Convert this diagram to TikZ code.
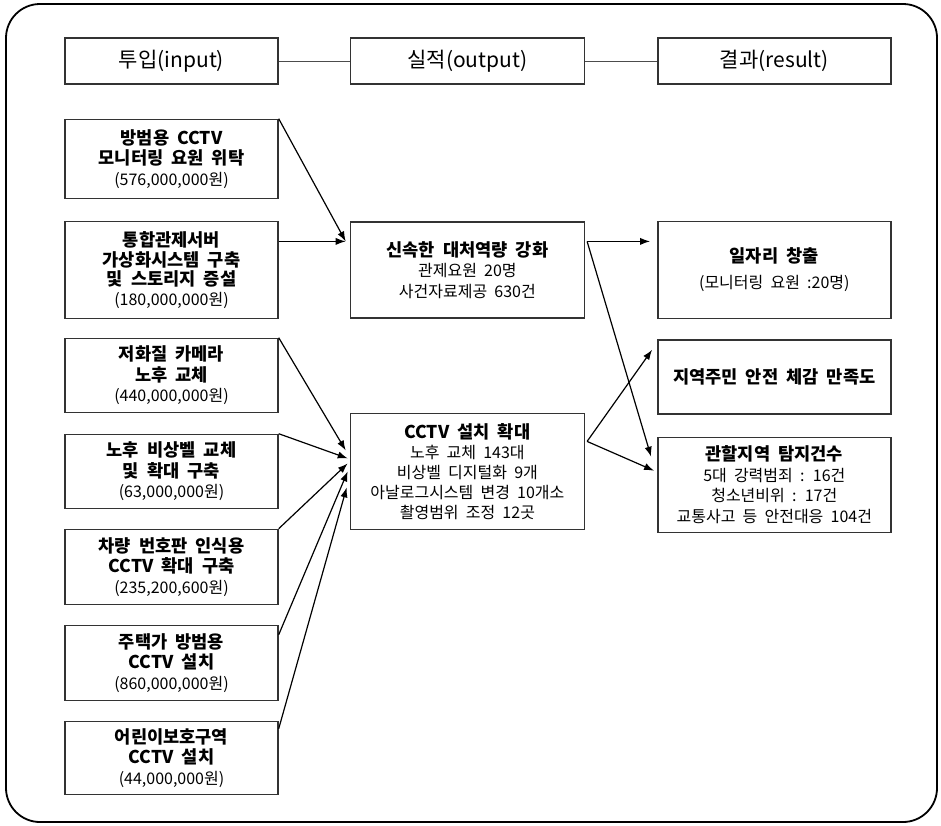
\documentclass[tikz,border=0pt]{standalone}
\usepackage{fontspec}
\setmainfont{Noto Sans CJK KR}[WordSpace=2]
\usepackage{tikz}
\usetikzlibrary{positioning,arrows.meta,calc}
\tikzstyle{box} = [rectangle, draw=black!80, line width=0.7pt, %
   align=center, inner sep=0.5pt, font=\fontsize{8.8}{10.2}\selectfont\bfseries]
\tikzstyle{inbox} = [box, minimum width=106.5pt]
\tikzstyle{outbox} = [box, minimum width=117pt]
\tikzstyle{resbox} = [box, minimum width=116.5pt]
\tikzstyle{head} = [minimum height=23pt, font=\fontsize{10.5}{12}\selectfont\mdseries]
\tikzstyle{link} = [draw, line width=0.5pt, black!70]
\tikzstyle{line} = [draw, line width=0.6pt, -{Latex[length=5pt,width=3.6pt]}]
\newcommand{\detail}[1]{{\mdseries\fontsize{8}{10}\selectfont #1}}

\begin{document}
\begin{tikzpicture}
   \useasboundingbox (0,0) rectangle (470.5pt,-412.5pt);
   \draw[line width=0.9pt, rounded corners=17pt] (3pt,-2pt) rectangle (468.5pt,-411pt);

   % HEADINGS %%%%%%%%%%%%%%%%%%%%%%%%%%%%%%%%%%%%%%%%%%%%%%%%%%%%%%%%%%%
   \node[inbox, head] (inhead) at (85.75pt,-30.5pt) {투입(input)};
   \node[outbox, head, right=35.5pt of inhead] (outhead) {실적(output)};
   \node[resbox, head, right=36pt of outhead] (reshead) {결과(result)};

   % INPUT COLUMN %%%%%%%%%%%%%%%%%%%%%%%%%%%%%%%%%%%%%%%%%%%%%%%%%%%%%%%
   \node[inbox, below=17pt of inhead, minimum height=39.5pt] (in1){%
      방범용 CCTV\\모니터링 요원 위탁\\\detail{(576,000,000원)}};
   \node[inbox, below=68pt of inhead, minimum height=48.5pt, %
      font=\fontsize{8.8}{9.8}\selectfont\bfseries] (in2){%
      통합관제서버\\가상화시스템 구축\\및 스토리지 증설\\\detail{(180,000,000원)}};
   \node[inbox, below=126.5pt of inhead, minimum height=37pt] (in3){%
      저화질 카메라\\노후 교체\\\detail{(440,000,000원)}};
   \node[inbox, below=174.5pt of inhead, minimum height=37pt] (in4){%
      노후 비상벨 교체\\및 확대 구축\\\detail{(63,000,000원)}};
   \node[inbox, below=222pt of inhead, minimum height=37.5pt] (in5){%
      차량 번호판 인식용\\CCTV 확대 구축\\\detail{(235,200,600원)}};
   \node[inbox, below=270pt of inhead, minimum height=37.5pt] (in6){%
      주택가 방범용\\CCTV 설치\\\detail{(860,000,000원)}};
   \node[inbox, below=318pt of inhead, minimum height=36.5pt] (in7){%
      어린이보호구역\\CCTV 설치\\\detail{(44,000,000원)}};

   % OUTPUT COLUMN %%%%%%%%%%%%%%%%%%%%%%%%%%%%%%%%%%%%%%%%%%%%%%%%%%%%%%
   \node[outbox, right=35.5pt of in2, minimum height=48pt] (speed){%
      신속한 대처역량 강화\\\detail{관제요원 20명}\\\detail{사건자료제공 630건}};
   \node[outbox, right=35.5pt of in4, minimum height=58pt, %
      font=\fontsize{8.8}{10}\selectfont\bfseries] (cctv){%
      CCTV 설치 확대\\\detail{노후 교체 143대}\\\detail{비상벨 디지털화 9개}\\%
      \detail{아날로그시스템 변경 10개소}\\\detail{촬영범위 조정 12곳}};

   % RESULT COLUMN %%%%%%%%%%%%%%%%%%%%%%%%%%%%%%%%%%%%%%%%%%%%%%%%%%%%%%
   \node[resbox, right=36pt of speed, minimum height=48.5pt] (jobs){%
      일자리 창출\\[3pt]\detail{(모니터링 요원 :20명)}};
   \node[resbox, below=10pt of jobs, minimum height=37pt] (safety){%
      지역주민 안전 체감 만족도};
   \node[resbox, below=11pt of safety, minimum height=47.5pt] (detect){%
      관할지역 탐지건수\\\detail{5대 강력범죄 : 16건}\\\detail{청소년비위 : 17건}\\%
      \detail{교통사고 등 안전대응 104건}};

   % Draw edges
   \path [link] (inhead) -- (outhead);
   \path [link] (outhead) -- (reshead);

   \coordinate (speedin) at ($(speed.west)+(-2pt,14.25pt)$);
   \path [line] (in1.north east) -- (speedin);
   \path [line] (in2.east |- speedin) -- (speedin);

   \path [line] (in3.north east) -- ($(cctv.west)+(-2pt,10.5pt)$);
   \path [line] (in4.north east) -- ($(cctv.west)+(-1pt,6.5pt)$);
   \path [line] (in5.north east) -- ($(cctv.west)+(-1pt,4pt)$);
   \path [line] ([yshift=-5pt]in6.north east) -- ($(cctv.west)+(-1pt,0pt)$);
   \path [line] ([yshift=-4pt]in7.north east) -- ($(cctv.west)+(-1.5pt,-8pt)$);

   \coordinate (speedout) at ($(speed.east)+(1pt,14.25pt)$);
   \coordinate (cctvout) at ($(cctv.east)+(1pt,15pt)$);
   \path [line] (speedout) -- ([xshift=-3.5pt]jobs.west |- speedout);
   \path [line] (speedout) -- ($(detect.west)+(-3pt,14pt)$);
   \path [line] (cctvout) -- ($(safety.west)+(-2.5pt,13.5pt)$);
   \path [line] (cctvout) -- ($(detect.west)+(-1.5pt,7pt)$);
\end{tikzpicture}
\end{document}
